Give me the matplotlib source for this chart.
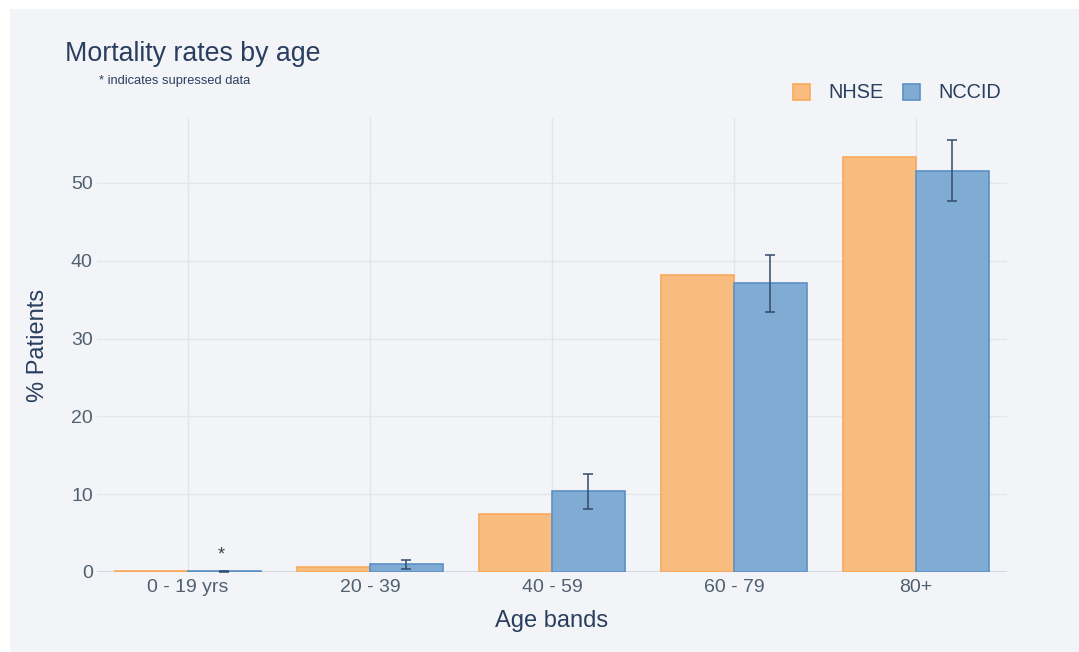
import matplotlib
matplotlib.use("Agg")
import matplotlib.pyplot as plt
from matplotlib.patches import Rectangle
import numpy as np

categories = ["0 - 19 yrs", "20 - 39", "40 - 59", "60 - 79", "80+"]
nhse = [0.1, 0.65, 7.5, 38.2, 53.4]
nccid = [0.1, 1.0, 10.4, 37.1, 51.6]
nccid_err = [0.05, 0.6, 2.25, 3.65, 3.9]
suppressed_idx = [0]

BG = "#f3f4f8"
TXT = "#2a3f5f"
TICK = "#506070"

plt.rcParams['font.family'] = ['Liberation Sans', 'DejaVu Sans']

W, H = 1079, 652
fig = plt.figure(figsize=(W / 100, H / 100), dpi=100)
fig.patch.set_facecolor("white")
fig.add_artist(Rectangle((10 / W, 0), 1 - 10 / W, 1 - 9 / H, transform=fig.transFigure,
                         facecolor=BG, edgecolor="none", zorder=-10))

ax = fig.add_axes([97 / W, 1 - 572 / H, 910 / W, 454 / H])
ax.set_facecolor(BG)

x = np.arange(len(categories))
w = 0.4
ax.bar(x - w / 2, nhse, width=w, color="#f9bc7f", edgecolor="#f8a95c", linewidth=1.2, zorder=3, label="NHSE")
ax.bar(x + w / 2, nccid, width=w, color="#80acd4", edgecolor="#5b90c6", linewidth=1.2, zorder=3, label="NCCID")
ax.errorbar(x + w / 2, nccid, yerr=nccid_err, fmt="none", ecolor="#344a6b", elinewidth=1.1,
            capsize=3.5, capthick=1.1, zorder=4)
for i in suppressed_idx:
    ax.text(x[i] + w / 2 - 0.02, nccid[i] + 2.1, "*", ha="center", va="center", fontsize=13, color="#444444", zorder=5)

ax.set_xlim(-0.5, len(categories) - 0.5)
ax.set_ylim(0, 58.35)
ax.set_xticks(x)
ax.set_xticklabels(categories)
ax.set_yticks([0, 10, 20, 30, 40, 50])
ax.tick_params(axis="both", length=0, labelsize=14, labelcolor=TICK)
ax.tick_params(axis="x", pad=5)
ax.tick_params(axis="y", pad=3)
ax.grid(True, color="#e3e5eb", linewidth=1, zorder=0)
ax.axhline(0, color="#d5d9e2", linewidth=1.5, zorder=2)
for s in ax.spines.values():
    s.set_visible(False)

ax.set_xlabel("Age bands", fontsize=17, color=TXT, labelpad=10)
ax.set_ylabel("% Patients", fontsize=17, color=TXT, labelpad=16)

fig.text(65 / W, 1 - 54 / H, "Mortality rates by age", fontsize=19.3, color=TXT, ha="left", va="center")
fig.text(99 / W, 1 - 81 / H, "* indicates supressed data", fontsize=9.3, color=TXT, ha="left", va="center")

leg = fig.legend(loc="center right", bbox_to_anchor=(1019 / W, 1 - 93 / H), ncol=2, frameon=False,
                 fontsize=14.3, handlelength=0.85, handleheight=0.85, handletextpad=0.95, columnspacing=0.95)
for t in leg.get_texts():
    t.set_color(TXT)

fig.savefig("out.png", dpi=100, facecolor="white")
